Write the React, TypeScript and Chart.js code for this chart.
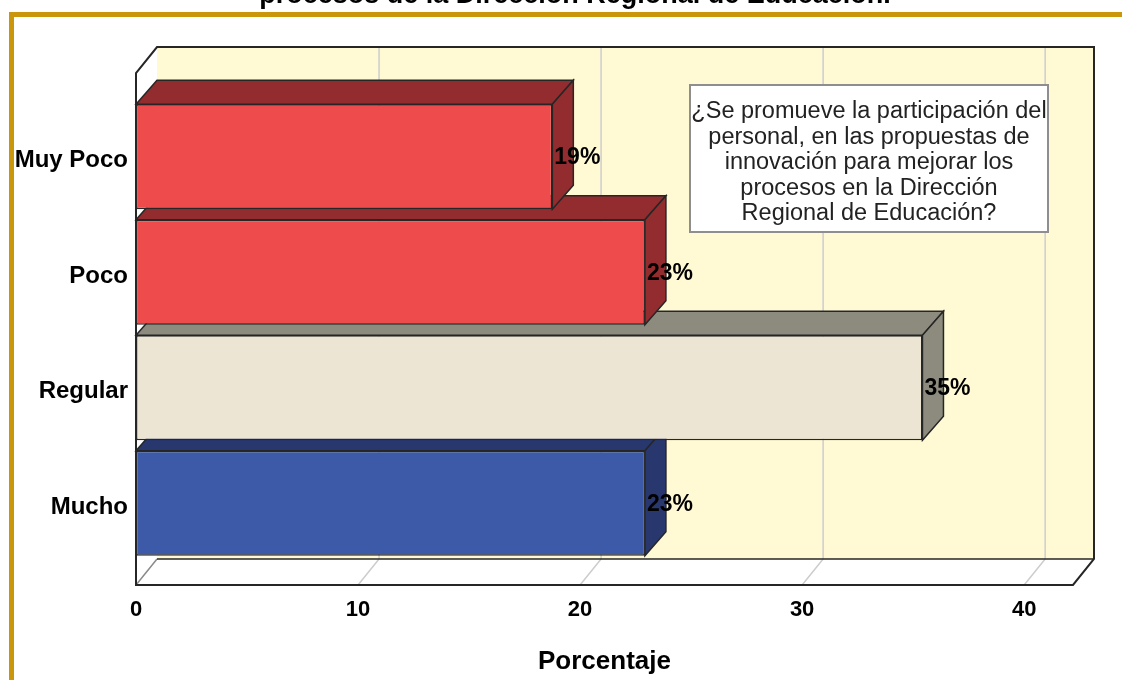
import { useEffect, useRef } from "react";
import { Chart, registerables } from "chart.js";

Chart.register(...registerables);

// ---------- data ----------
const categories = ["Muy Poco", "Poco", "Regular", "Mucho"];
const percentages = [18.75, 22.92, 35.42, 22.92];
const valueLabels = ["19%", "23%", "35%", "23%"];
const xTickValues = [0, 10, 20, 30, 40];
const xMax = 42.2;
const frontColors = ["#EE4B4C", "#EE4B4C", "#ECE5D3", "#3D5AA8"];
const sideColors = ["#922C2E", "#922C2E", "#8D8B7E", "#28386F"];
const titleText = "procesos de la Dirección Regional de Educación.";
const boxLines = [
  "¿Se promueve la participación del",
  "personal, en las propuestas de",
  "innovación para mejorar los",
  "procesos en la Dirección",
  "Regional de Educación?",
];
const xAxisTitle = "Porcentaje";

// ---------- styling constants ----------
const FONT = "'Liberation Sans', Arial, sans-serif";
const DX = 21; // depth offset x
const BOX_DY = 26; // depth offset y for the box
const BAR_DY = 24; // depth offset y for bars
const EDGE = "#262626";

const threeDPlugin = {
  id: "threeD",
  beforeDraw(chart: any) {
    const ctx = chart.ctx as CanvasRenderingContext2D;
    const a = chart.chartArea;
    const xs = chart.scales.x;
    ctx.save();
    ctx.fillStyle = "#ffffff";
    ctx.fillRect(0, 0, chart.width, chart.height);

    // gold frame
    ctx.strokeStyle = "#C9960C";
    ctx.lineWidth = 5;
    ctx.beginPath();
    ctx.moveTo(11.5, 700);
    ctx.lineTo(11.5, 14.5);
    ctx.lineTo(1140, 14.5);
    ctx.stroke();

    // cut-off title
    ctx.font = `bold 27px ${FONT}`;
    ctx.fillStyle = "#000";
    ctx.textAlign = "center";
    ctx.textBaseline = "alphabetic";
    ctx.fillText(titleText, 575, 3);

    const L = a.left;
    const R = a.right;
    const fT = a.top - BOX_DY;
    const fB = a.bottom + 24;
    const bT = fT - BOX_DY;
    const bB = fB - BOX_DY;

    // back wall
    ctx.fillStyle = "#FFFAD4";
    ctx.fillRect(L + DX, bT, R - L, bB - bT);
    // left wall
    ctx.fillStyle = "#ffffff";
    ctx.beginPath();
    ctx.moveTo(L, fT);
    ctx.lineTo(L + DX, bT);
    ctx.lineTo(L + DX, bB);
    ctx.lineTo(L, fB);
    ctx.closePath();
    ctx.fill();
    // floor
    ctx.beginPath();
    ctx.moveTo(L, fB);
    ctx.lineTo(R, fB);
    ctx.lineTo(R + DX, bB);
    ctx.lineTo(L + DX, bB);
    ctx.closePath();
    ctx.fill();

    // grid lines
    ctx.strokeStyle = "#CDCDCD";
    ctx.lineWidth = 1.5;
    for (const v of xTickValues) {
      if (v === 0) continue;
      const px = xs.getPixelForValue(v);
      ctx.beginPath();
      ctx.moveTo(px + DX, bT);
      ctx.lineTo(px + DX, bB);
      ctx.moveTo(px, fB);
      ctx.lineTo(px + DX, bB);
      ctx.stroke();
    }
    // floor left diagonal
    ctx.strokeStyle = "#8a8a8a";
    ctx.beginPath();
    ctx.moveTo(L, fB);
    ctx.lineTo(L + DX, bB);
    ctx.stroke();

    // outlines
    ctx.strokeStyle = EDGE;
    ctx.lineWidth = 2;
    ctx.lineJoin = "miter";
    ctx.beginPath();
    ctx.moveTo(L, fB);
    ctx.lineTo(L, fT);
    ctx.lineTo(L + DX, bT);
    ctx.lineTo(R + DX, bT);
    ctx.lineTo(R + DX, bB);
    ctx.lineTo(R, fB);
    ctx.closePath();
    ctx.stroke();
    ctx.lineWidth = 1.5;
    ctx.beginPath();
    ctx.moveTo(L + DX, bB);
    ctx.lineTo(R + DX, bB);
    ctx.stroke();
    ctx.restore();
  },
  beforeDatasetsDraw(chart: any) {
    const ctx = chart.ctx as CanvasRenderingContext2D;
    const meta = chart.getDatasetMeta(0);
    ctx.save();
    ctx.strokeStyle = EDGE;
    ctx.lineWidth = 1.5;
    ctx.lineJoin = "miter";
    for (let i = meta.data.length - 1; i >= 0; i--) {
      const el = meta.data[i];
      const { x, y, base, height } = el.getProps(["x", "y", "base", "height"], true);
      const x0 = Math.min(x, base);
      const x1 = Math.max(x, base);
      const yT = y - height / 2;
      const yB = y + height / 2;
      ctx.fillStyle = sideColors[i];
      // top face
      ctx.beginPath();
      ctx.moveTo(x0, yT);
      ctx.lineTo(x1, yT);
      ctx.lineTo(x1 + DX, yT - BAR_DY);
      ctx.lineTo(x0 + DX, yT - BAR_DY);
      ctx.closePath();
      ctx.fill();
      ctx.stroke();
      // right face
      ctx.beginPath();
      ctx.moveTo(x1, yT);
      ctx.lineTo(x1 + DX, yT - BAR_DY);
      ctx.lineTo(x1 + DX, yB - BAR_DY);
      ctx.lineTo(x1, yB);
      ctx.closePath();
      ctx.fill();
      ctx.stroke();
    }
    ctx.restore();
  },
  afterDatasetsDraw(chart: any) {
    const ctx = chart.ctx as CanvasRenderingContext2D;
    const meta = chart.getDatasetMeta(0);
    ctx.save();
    // value labels
    ctx.font = `bold 23px ${FONT}`;
    ctx.fillStyle = "#000";
    ctx.textAlign = "left";
    ctx.textBaseline = "middle";
    meta.data.forEach((el: any, i: number) => {
      const { x, y } = el.getProps(["x", "y"], true);
      ctx.fillText(valueLabels[i], x + 2, y + 1);
    });

    // annotation box
    const bx = 690, by = 85, bw = 358, bh = 147;
    ctx.fillStyle = "#ffffff";
    ctx.fillRect(bx, by, bw, bh);
    ctx.strokeStyle = "#8E8E8E";
    ctx.lineWidth = 2;
    ctx.strokeRect(bx, by, bw, bh);
    ctx.font = `23.5px ${FONT}`;
    ctx.fillStyle = "#222";
    ctx.textAlign = "center";
    ctx.textBaseline = "middle";
    boxLines.forEach((line, i) => {
      ctx.fillText(line, bx + bw / 2, by + 27 + i * 25.5);
    });
    ctx.restore();
  },
};

export default function App() {
  const canvasRef = useRef<HTMLCanvasElement | null>(null);

  useEffect(() => {
    if (!canvasRef.current) return;
    const chart = new Chart(canvasRef.current, {
      type: "bar",
      data: {
        labels: categories,
        datasets: [
          {
            data: percentages,
            backgroundColor: frontColors,
            borderColor: EDGE,
            borderWidth: 1.5,
            borderSkipped: false,
            categoryPercentage: 1,
            barPercentage: 0.91,
          },
        ],
      },
      options: {
        indexAxis: "y",
        responsive: false,
        animation: false,
        devicePixelRatio: 1,
        layout: { padding: { top: 99, right: 49, bottom: 0, left: 0 } },
        plugins: {
          legend: { display: false },
          tooltip: { enabled: false },
        },
        scales: {
          x: {
            type: "linear",
            min: 0,
            max: xMax,
            afterBuildTicks: (scale: any) => {
              scale.ticks = xTickValues.map((v) => ({ value: v }));
            },
            afterFit: (scale: any) => {
              scale.height = 119;
            },
            grid: { display: false, drawTicks: false },
            border: { display: false },
            ticks: {
              color: "#000",
              font: { family: FONT, size: 22, weight: "bold" },
              padding: 36,
            },
            title: {
              display: true,
              text: xAxisTitle,
              color: "#000",
              font: { family: FONT, size: 26, weight: "bold" },
              padding: { top: 0, bottom: 3 },
            },
          },
          y: {
            type: "category",
            afterFit: (scale: any) => {
              scale.width = 136;
            },
            grid: { display: false, drawTicks: false },
            border: { display: false },
            ticks: {
              color: "#000",
              font: { family: FONT, size: 24, weight: "bold" },
              padding: 8,
              labelOffset: 4,
            },
          },
        },
      },
      plugins: [threeDPlugin],
    } as any);
    return () => chart.destroy();
  }, []);

  return (
    <div style={{ position: "fixed", left: 0, top: 0, width: 1122, height: 680, background: "#fff" }}>
      <canvas ref={canvasRef} width={1122} height={680} style={{ display: "block" }} />
    </div>
  );
}
